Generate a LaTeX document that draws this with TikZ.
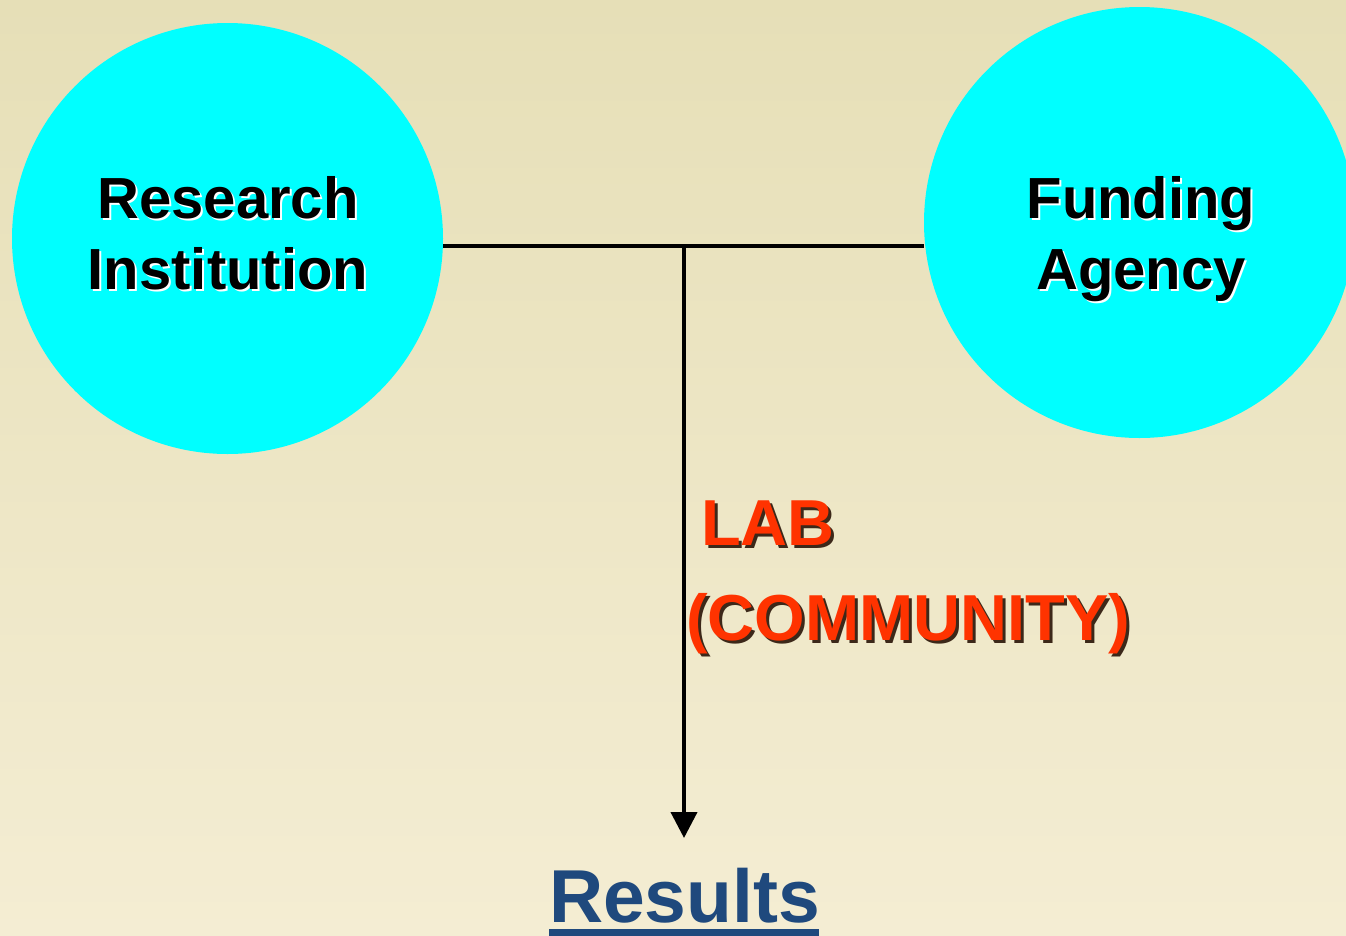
\documentclass[tikz,border=0pt]{standalone}
\usepackage{fontspec}
\setmainfont{Liberation Sans}
\usetikzlibrary{arrows.meta}
\definecolor{bgtop}{RGB}{230,223,183}
\definecolor{bgbot}{RGB}{244,237,211}
\definecolor{circ}{RGB}{0,255,255}
\definecolor{labred}{RGB}{255,51,0}
\definecolor{resblue}{RGB}{31,73,125}
\definecolor{redshadow}{RGB}{60,40,25}
\tikzset{
  bubble/.style={circle, fill=circ, draw=none, minimum size=431pt, inner sep=0pt},
  blacktext/.style={anchor=base, inner sep=0pt, text=black, font=\fontsize{58}{70}\selectfont\bfseries},
  glow/.style={blacktext, text=white},
  redtext/.style={anchor=base west, inner sep=0pt, text=labred, font=\fontsize{65}{78}\selectfont\bfseries},
  redshade/.style={redtext, text=redshadow},
  restext/.style={anchor=base, inner sep=0pt, text=resblue, font=\fontsize{75}{90}\selectfont\bfseries},
  connector/.style={line width=4pt, black},
}
\begin{document}
\begin{tikzpicture}[x=1pt, y=-1pt]
  \useasboundingbox (0,0) rectangle (1346,935);
  \shade[top color=bgtop, bottom color=bgbot] (0,0) rectangle (1346,935);

  % circles
  \node[bubble] (ri) at (227.5,238.5) {};
  \node[bubble] (fa) at (1139.5,222.5) {};

  % circle texts
  \node[glow] (ri1s) at (230,220) {Research};
  \node[blacktext] (ri1) at (228,218) {Research};
  \node[glow] (ri2s) at (230,291) {Institution};
  \node[blacktext] (ri2) at (228,289) {Institution};
  \node[glow] (fa1s) at (1143,220) {Funding};
  \node[blacktext] (fa1) at (1141,218) {Funding};
  \node[glow] (fa2s) at (1143,291) {Agency};
  \node[blacktext] (fa2) at (1141,289) {Agency};

  % connectors
  \coordinate (j) at (684,246);
  \coordinate (tip) at (684,838);
  \draw[connector] (ri.east |- j) -- (fa.west |- j);
  \draw[connector, -{Triangle[width=26pt,length=26pt]}] (j) -- (tip);

  % LAB label
  \node[redshade] (labs) at (704,548) {LAB};
  \node[redtext] (lab) at (701,545) {LAB};
  \node[redshade] (coms) at (689,643) {(COMMUNITY)};
  \node[redtext] (com) at (686,640) {(COMMUNITY)};

  % Results
  \node[restext] (res) at (684.5,922) {Results};
  \fill[resblue] (549,929) rectangle (819,936);
\end{tikzpicture}
\end{document}
